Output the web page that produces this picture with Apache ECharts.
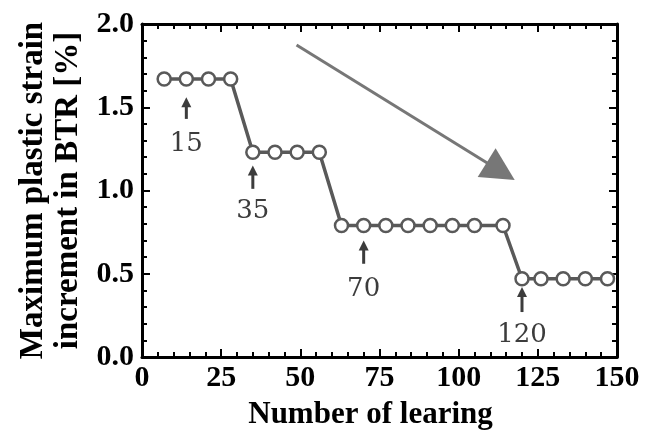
<!DOCTYPE html>
<html>
<head>
<meta charset="utf-8">
<script src="https://cdn.jsdelivr.net/npm/echarts@6/dist/echarts.min.js"></script>
<style>
html,body{margin:0;padding:0;background:#fff;}
#chart{width:655px;height:435px;}
</style>
</head>
<body>
<div id="chart"></div>
<script>
// ---- data ----
const learningCounts = [7,14,21,28,35,42,49,56,63,70,77,84,91,98,105,114,120,126,133,140,147];
const strainValues = [1.67,1.67,1.67,1.67,1.23,1.23,1.23,1.23,0.79,0.79,0.79,0.79,0.79,0.79,0.79,0.79,0.47,0.47,0.47,0.47,0.47];
const xTicks = [0,25,50,75,100,125,150];
const yTicks = [0.0,0.5,1.0,1.5,2.0];
const annotX = [14, 35, 70, 120];
const annotText = ['15', '35', '70', '120'];
const annotTipY = [1.56, 1.15, 0.70, 0.42];
const annotTailY = [1.43, 1.01, 0.56, 0.27];
const annotLabelY = [1.28, 0.875, 0.405, 0.13];
const trendFrom = [48.8, 1.874];
const trendTo = [117.7, 1.063];

const serif = '"Liberation Serif","Times New Roman",serif';
const black = '#000';

function axisCommon(showLabel) {
  return {
    axisLine: {show: true, onZero: false, lineStyle: {color: black, width: 3}},
    axisTick: {show: true, inside: true, length: 8, lineStyle: {color: black, width: 2}},
    minorTick: {show: true, splitNumber: 5, length: 5, lineStyle: {color: black, width: 2}},
    splitLine: {show: false},
    minorSplitLine: {show: false},
    axisLabel: {show: showLabel, color: black, fontFamily: serif, fontWeight: 'bold', fontSize: 30}
  };
}

const chart = echarts.init(document.getElementById('chart'), null, {renderer: 'canvas'});
const option = {
  backgroundColor: '#fff',
  animation: false,
  grid: {left: 142, right: 38, top: 24, bottom: 78, containLabel: false, outerBoundsMode: 'none'},
  xAxis: [
    Object.assign(axisCommon(true), {
      type: 'value', min: xTicks[0], max: xTicks[xTicks.length-1], interval: 25, position: 'bottom',
      name: 'Number of learing', nameLocation: 'middle', nameGap: 42,
      nameTextStyle: {color: black, fontFamily: serif, fontWeight: 'bold', fontSize: 31, padding: [0, 18, 0, 0]},
      axisLabel: {show: true, color: black, fontFamily: serif, fontWeight: 'bold', fontSize: 30, margin: 6}
    }),
    Object.assign(axisCommon(false), {
      type: 'value', min: 0, max: 150, interval: 25, position: 'top'
    })
  ],
  yAxis: [
    Object.assign(axisCommon(true), {
      type: 'value', min: yTicks[0], max: yTicks[yTicks.length-1], interval: 0.5, position: 'left',
      name: 'Maximum plastic strain\nincrement in BTR [%]', nameLocation: 'middle', nameGap: 46,
      nameTextStyle: {color: black, fontFamily: serif, fontWeight: 'bold', fontSize: 33, lineHeight: 35},
      axisLabel: {show: true, color: black, fontFamily: serif, fontWeight: 'bold', fontSize: 30, margin: 8,
        formatter: v => v.toFixed(1)}
    }),
    Object.assign(axisCommon(false), {
      type: 'value', min: 0, max: 2, interval: 0.5, position: 'right'
    })
  ],
  series: [
    {
      type: 'custom',
      xAxisIndex: 0, yAxisIndex: 0,
      clip: false,
      data: [[trendFrom[0], trendFrom[1], trendTo[0], trendTo[1]]],
      encode: {x: [0, 2], y: [1, 3]},
      renderItem: function (params, api) {
        const a = api.coord([api.value(0), api.value(1)]);
        const b = api.coord([api.value(2), api.value(3)]);
        const dx = b[0] - a[0], dy = b[1] - a[1];
        const len = Math.sqrt(dx*dx + dy*dy);
        const ux = dx/len, uy = dy/len;
        const hl = 33, hw = 17;
        const bx = b[0] - ux*hl, by = b[1] - uy*hl;
        return {
          type: 'group',
          children: [
            {type: 'line', shape: {x1: a[0], y1: a[1], x2: bx + ux*4, y2: by + uy*4},
             style: {stroke: '#777', lineWidth: 3}},
            {type: 'polygon', shape: {points: [[b[0], b[1]], [bx - uy*hw, by + ux*hw], [bx + uy*hw, by - ux*hw]]},
             style: {fill: '#777'}}
          ]
        };
      },
      z: 1
    },
    {
      type: 'line',
      data: learningCounts.map((x, i) => [x, strainValues[i]]),
      lineStyle: {color: '#595959', width: 3.5},
      symbol: 'circle',
      symbolSize: 13,
      itemStyle: {color: '#fff', borderColor: '#595959', borderWidth: 2.5},
      z: 3
    },
    {
      type: 'custom',
      clip: false,
      data: annotX.map((x, i) => [x, annotTipY[i], annotTailY[i], annotLabelY[i]]),
      encode: {x: 0, y: [1, 2, 3]},
      renderItem: function (params, api) {
        const i = params.dataIndex;
        const tip = api.coord([api.value(0), api.value(1)]);
        const tail = api.coord([api.value(0), api.value(2)]);
        const lab = api.coord([api.value(0), api.value(3)]);
        const col = '#3c3c3c';
        return {
          type: 'group',
          children: [
            {type: 'line', shape: {x1: tip[0], y1: tip[1] + 8, x2: tail[0], y2: tail[1]},
             style: {stroke: col, lineWidth: 3}},
            {type: 'polygon', shape: {points: [[tip[0], tip[1]], [tip[0] - 5, tip[1] + 10], [tip[0] + 5, tip[1] + 10]]},
             style: {fill: col}},
            {type: 'text', x: lab[0], y: lab[1],
             style: {text: annotText[i], font: '26px "DejaVu Serif", serif', fill: col,
                     align: 'center', verticalAlign: 'middle'}}
          ]
        };
      },
      z: 4
    }
  ]
};
chart.setOption(option);
</script>
</body>
</html>
